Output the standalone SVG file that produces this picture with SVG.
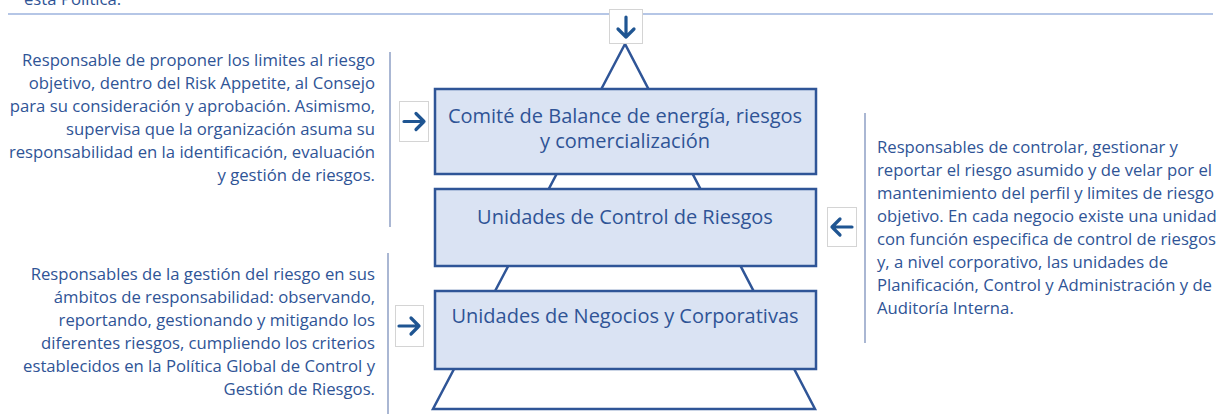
<svg xmlns="http://www.w3.org/2000/svg" width="1219" height="414" viewBox="0 0 1219 414">
<style>
.t{font-family:"Open Sans","Liberation Sans",sans-serif;fill:#2f5496;}
.side{font-size:16.7px;}
.box{fill:#dae3f3;stroke:#2f5597;stroke-width:2.5;}
.lbl{font-size:20px;text-anchor:middle;}
.ic{fill:#fff;stroke:#d4d4d4;stroke-width:1;}
.ar{fill:none;stroke:#1f5592;stroke-width:3.2;stroke-linecap:round;stroke-linejoin:round;}
.vl{stroke:#8e9fc4;stroke-width:1.5;}
</style>
<rect width="1219" height="414" fill="#fff"/>
<text class="t side" x="24" y="5">esta Política.</text>
<line x1="8" y1="14" x2="1213" y2="14" stroke="#9db3de" stroke-width="1.5"/>
<g id="pyramid">
<polygon points="625,44 433,409 815,409" fill="#fff" stroke="#2f5597" stroke-width="2.5" stroke-linejoin="miter"/>
</g>
<g id="lines">
<line class="vl" x1="390" y1="52" x2="390" y2="227"/>
<line class="vl" x1="388" y1="253" x2="388" y2="414"/>
<line class="vl" x1="865" y1="113" x2="865" y2="343"/>
</g>
<g id="node1">
<rect class="box" x="435" y="89" width="381" height="85"/>
<text class="t lbl" x="625" y="123">Comité de Balance de energía, riesgos</text>
<text class="t lbl" x="625" y="148">y comercialización</text>
</g>
<g id="node2">
<rect class="box" x="435" y="189" width="381" height="77"/>
<text class="t lbl" x="625" y="224">Unidades de Control de Riesgos</text>
</g>
<g id="node3">
<rect class="box" x="435" y="291" width="381" height="78"/>
<text class="t lbl" x="625" y="323">Unidades de Negocios y Corporativas</text>
</g>
<g id="icon-down">
<rect class="ic" x="609.5" y="9.5" width="33" height="34"/>
<path class="ar" d="M626 17 V37 M618 29 L626 37 L634 29"/>
</g>
<g id="icon-right1">
<rect class="ic" x="399.5" y="101.5" width="29" height="40"/>
<path class="ar" d="M404 121.5 H424 M416 113.5 L424 121.5 L416 129.5"/>
</g>
<g id="icon-left2">
<rect class="ic" x="827.5" y="207.5" width="29" height="39"/>
<path class="ar" d="M852 227 H832 M840 219 L832 227 L840 235"/>
</g>
<g id="icon-right3">
<rect class="ic" x="395.5" y="305.5" width="28" height="41"/>
<path class="ar" d="M399 326 H419 M411 318 L419 326 L411 334"/>
</g>
<g id="desc1" class="t side" text-anchor="end">
<text x="375" y="66">Responsable de proponer los limites al riesgo</text>
<text x="375" y="89">objetivo, dentro del Risk Appetite, al Consejo</text>
<text x="375" y="112">para su consideración y aprobación. Asimismo,</text>
<text x="375" y="135">supervisa que la organización asuma su</text>
<text x="375" y="158">responsabilidad en la identificación, evaluación</text>
<text x="375" y="181">y gestión de riesgos.</text>
</g>
<g id="desc2" class="t side">
<text x="877" y="153">Responsables de controlar, gestionar y</text>
<text x="877" y="176">reportar el riesgo asumido y de velar por el</text>
<text x="877" y="199">mantenimiento del perfil y limites de riesgo</text>
<text x="877" y="222">objetivo. En cada negocio existe una unidad</text>
<text x="877" y="245">con función especifica de control de riesgos</text>
<text x="877" y="268">y, a nivel corporativo, las unidades de</text>
<text x="877" y="291">Planificación, Control y Administración y de</text>
<text x="877" y="314">Auditoría Interna.</text>
</g>
<g id="desc3" class="t side" text-anchor="end">
<text x="375" y="280">Responsables de la gestión del riesgo en sus</text>
<text x="375" y="303">ámbitos de responsabilidad: observando,</text>
<text x="375" y="326">reportando, gestionando y mitigando los</text>
<text x="375" y="349">diferentes riesgos, cumpliendo los criterios</text>
<text x="375" y="372">establecidos en la Política Global de Control y</text>
<text x="375" y="395">Gestión de Riesgos.</text>
</g>
</svg>
